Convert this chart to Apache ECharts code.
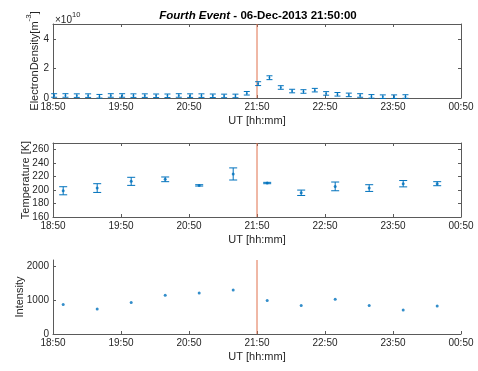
<!DOCTYPE html>
<html>
<head>
<meta charset="utf-8">
<script src="https://cdn.jsdelivr.net/npm/echarts@6/dist/echarts.min.js"></script>
<style>
  html, body { margin: 0; padding: 0; background: #fff; }
  #chart { width: 478px; height: 371px; }
</style>
</head>
<body>
<div id="chart"></div>
<script>
// ---- Data ----
const eventTime = '21:50';
const axisStart = '18:50';
const xTickLabels = ['18:50', '19:50', '20:50', '21:50', '22:50', '23:50', '00:50'];

// Electron density (units of 1e10 m^-3), 10-minute samples
const densityTimes = ['18:51', '19:01', '19:11', '19:21', '19:31', '19:41', '19:51', '20:01',
  '20:11', '20:21', '20:31', '20:41', '20:51', '21:01', '21:11', '21:21', '21:31', '21:41',
  '21:51', '22:01', '22:11', '22:21', '22:31', '22:41', '22:51', '23:01', '23:11', '23:21',
  '23:31', '23:41', '23:51', '00:01'];
const densityE10 = [0.17, 0.17, 0.16, 0.16, 0.12, 0.17, 0.17, 0.16, 0.16, 0.15, 0.15, 0.17,
  0.16, 0.16, 0.15, 0.14, 0.14, 0.32, 0.97, 1.37, 0.71, 0.47, 0.44, 0.53, 0.31, 0.25, 0.21,
  0.17, 0.11, 0.09, 0.09, 0.10];
const densityErrE10 = [0.12, 0.12, 0.12, 0.12, 0.12, 0.12, 0.12, 0.12, 0.12, 0.12, 0.12, 0.12,
  0.12, 0.12, 0.12, 0.12, 0.12, 0.12, 0.13, 0.13, 0.12, 0.12, 0.12, 0.12, 0.12, 0.12, 0.12,
  0.12, 0.12, 0.12, 0.12, 0.12];
const densityRange = [0, 5];
const densityTicks = [0, 2, 4];

// Temperature and intensity, 30-minute samples
const slowTimes = ['18:59', '19:29', '19:59', '20:29', '20:59', '21:29', '21:59', '22:29',
  '22:59', '23:29', '23:59', '00:29'];
const temperature = [199, 203, 213, 216, 207, 224, 210.5, 196, 205.5, 203, 209.5, 209.5];
const temperatureErr = [6, 6.5, 6, 3.5, 1, 9, 1, 4, 6.5, 5, 4.7, 3];
const temperatureRange = [160, 270];
const temperatureTicks = [160, 180, 200, 220, 240, 260];
const intensity = [878, 741, 937, 1151, 1218, 1306, 996, 849, 1034, 849, 712, 829];
const intensityRange = [0, 2200];
const intensityTicks = [0, 1000, 2000];

// ---- Helpers ----
const BLUE = '#0072BD';
const RED = '#E0704C';
const AXIS = '#5a5a5a';
const TEXT = '#262626';
const FONT = '"Liberation Sans", Arial, Helvetica, sans-serif';

function toMin(t) {
  const [h, m] = t.split(':').map(Number);
  return (h < 12 ? h + 24 : h) * 60 + m;
}
const t0 = toMin(axisStart);
const rel = t => toMin(t) - t0;
const tickMinutes = xTickLabels.map(rel);
const eventX = rel(eventTime);

function fmtClock(v) {
  const idx = tickMinutes.indexOf(v);
  return idx >= 0 ? xTickLabels[idx] : '';
}

function errorBars(capHalf) {
  return function (params, api) {
    const x = api.value(0);
    const lo = api.coord([x, api.value(1)]);
    const hi = api.coord([x, api.value(2)]);
    const style = { stroke: BLUE, lineWidth: 1, fill: null };
    return {
      type: 'group',
      children: [
        { type: 'line', shape: { x1: lo[0], y1: lo[1], x2: hi[0], y2: hi[1] }, style },
        { type: 'line', shape: { x1: lo[0] - capHalf, y1: lo[1], x2: lo[0] + capHalf, y2: lo[1] }, style },
        { type: 'line', shape: { x1: hi[0] - capHalf, y1: hi[1], x2: hi[0] + capHalf, y2: hi[1] }, style }
      ]
    };
  };
}

// Vertical marker at the event time, spanning the panel's y range
function eventSeries(axisIndex, range) {
  return {
    type: 'line', xAxisIndex: axisIndex, yAxisIndex: axisIndex, silent: true,
    symbol: 'none', z: 1,
    lineStyle: { color: RED, width: 1 },
    data: [[eventX, range[0]], [eventX, range[1]]]
  };
}

const gridLeft = 53, gridWidth = 408, gridHeight = 74;
const grids = [
  { left: gridLeft, top: 24, width: gridWidth, height: gridHeight },
  { left: gridLeft, top: 143, width: gridWidth, height: gridHeight },
  { left: gridLeft, top: 260, width: gridWidth, height: gridHeight }
];

function xAxisFor(gridIndex, mirror) {
  return {
    type: 'value', gridIndex, position: mirror ? 'top' : 'bottom',
    min: 0, max: 360, interval: 60,
    name: mirror ? '' : 'UT [hh:mm]', nameLocation: 'middle', nameGap: 17,
    nameMoveOverlap: false,
    nameTextStyle: { color: TEXT, fontSize: 11, fontFamily: FONT },
    axisLine: { show: true, onZero: false, lineStyle: { color: AXIS, width: 1 } },
    axisTick: { show: true, inside: true, length: 3, lineStyle: { color: AXIS } },
    axisLabel: { show: !mirror, margin: 4, color: TEXT, fontSize: 10, fontFamily: FONT, formatter: fmtClock },
    splitLine: { show: false }
  };
}

function yAxisFor(gridIndex, mirror, range, ticks, name, nameGap, rich) {
  return {
    type: 'value', gridIndex, position: mirror ? 'right' : 'left',
    min: range[0], max: range[1],
    name: mirror ? '' : name, nameLocation: 'middle', nameGap,
    nameMoveOverlap: false,
    nameTextStyle: { color: TEXT, fontSize: 11, fontFamily: FONT, rich },
    axisLine: { show: true, onZero: false, lineStyle: { color: AXIS, width: 1 } },
    axisTick: { show: true, inside: true, length: 3, customValues: ticks, lineStyle: { color: AXIS } },
    axisLabel: { show: !mirror, margin: 4, color: TEXT, fontSize: 10, fontFamily: FONT,
      customValues: ticks, formatter: v => String(v) },
    splitLine: { show: false }
  };
}

const densityRich = {
  a: { fontSize: 11, fontFamily: FONT, color: TEXT, verticalAlign: 'bottom', lineHeight: 15 },
  s: { fontSize: 8, fontFamily: FONT, color: TEXT, verticalAlign: 'top', lineHeight: 15 }
};

const option = {
  animation: false,
  backgroundColor: '#fff',
  textStyle: { fontFamily: FONT },
  grid: grids,
  xAxis: [
    xAxisFor(0, false), xAxisFor(0, true),
    xAxisFor(1, false), xAxisFor(1, true),
    xAxisFor(2, false)
  ],
  yAxis: [
    yAxisFor(0, false, densityRange, densityTicks, '{a|ElectronDensity[m}{s|-3}{a|]}', 13, densityRich),
    yAxisFor(0, true, densityRange, densityTicks),
    yAxisFor(1, false, temperatureRange, temperatureTicks, 'Temperature [K]', 22),
    yAxisFor(1, true, temperatureRange, temperatureTicks),
    yAxisFor(2, false, intensityRange, intensityTicks, 'Intensity', 28)
  ],
  graphic: [
    {
      type: 'text', x: 258, y: 10, z: 10,
      style: {
        text: '{i|Fourth Event}{b| - 06-Dec-2013 21:50:00}',
        align: 'center', verticalAlign: 'top',
        rich: {
          i: { fontSize: 11.5, fontWeight: 'bold', fontStyle: 'italic', fontFamily: FONT, fill: '#000' },
          b: { fontSize: 11.5, fontWeight: 'bold', fontFamily: FONT, fill: '#000' }
        }
      }
    },
    {
      type: 'text', x: 55, y: 11, z: 10,
      style: {
        text: '{a|\u00d710}{s|10}',
        rich: {
          a: { fontSize: 10, fontFamily: FONT, fill: TEXT, verticalAlign: 'bottom', lineHeight: 14 },
          s: { fontSize: 7.5, fontFamily: FONT, fill: TEXT, verticalAlign: 'top', lineHeight: 14 }
        }
      }
    }
  ],
  series: [
    eventSeries(0, densityRange),
    {
      type: 'custom', xAxisIndex: 0, yAxisIndex: 0, silent: true,
      renderItem: errorBars(3),
      encode: { x: 0, y: [1, 2] },
      data: densityTimes.map((t, i) => [rel(t), densityE10[i] - densityErrE10[i], densityE10[i] + densityErrE10[i]]),
      z: 3
    },
    {
      type: 'scatter', xAxisIndex: 0, yAxisIndex: 0, silent: true,
      symbolSize: 2, itemStyle: { color: BLUE },
      data: densityTimes.map((t, i) => [rel(t), densityE10[i]])
    },
    eventSeries(2, temperatureRange),
    {
      type: 'custom', xAxisIndex: 2, yAxisIndex: 2, silent: true,
      renderItem: errorBars(4),
      encode: { x: 0, y: [1, 2] },
      data: slowTimes.map((t, i) => [rel(t), temperature[i] - temperatureErr[i], temperature[i] + temperatureErr[i]]),
      z: 3
    },
    {
      type: 'scatter', xAxisIndex: 2, yAxisIndex: 2, silent: true,
      symbolSize: 3, itemStyle: { color: BLUE },
      data: slowTimes.map((t, i) => [rel(t), temperature[i]])
    },
    eventSeries(4, intensityRange),
    {
      type: 'scatter', xAxisIndex: 4, yAxisIndex: 4, silent: true,
      symbolSize: 3, itemStyle: { color: BLUE },
      data: slowTimes.map((t, i) => [rel(t), intensity[i]])
    }
  ]
};

const chart = echarts.init(document.getElementById('chart'), null, { renderer: 'canvas' });
chart.setOption(option);
</script>
</body>
</html>
